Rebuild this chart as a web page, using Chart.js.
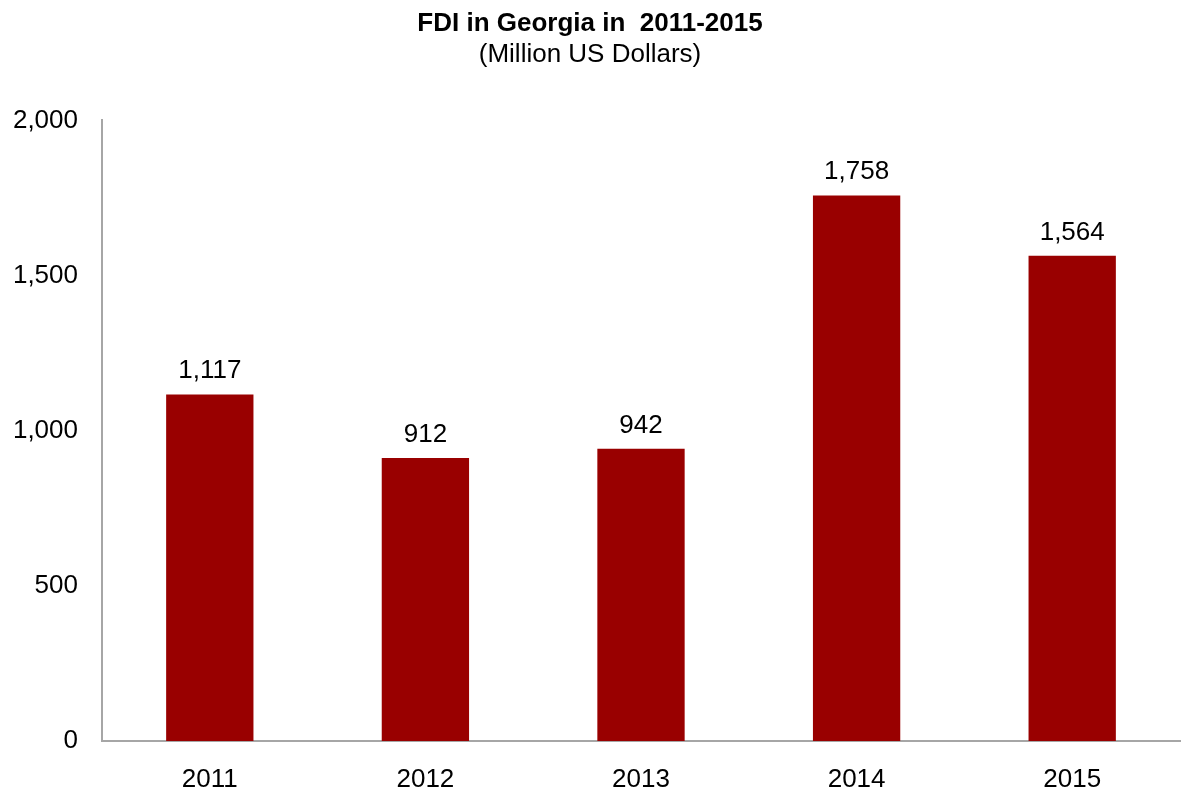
<!DOCTYPE html>
<html>
<head>
<meta charset="utf-8">
<script src="https://cdn.jsdelivr.net/npm/chart.js@4/dist/chart.umd.min.js"></script>
<style>
  body { margin: 0; background: #fff; }
</style>
</head>
<body>
<canvas id="fdi-chart" width="1182" height="795"></canvas>
<script>
const years = ['2011', '2012', '2013', '2014', '2015'];
const fdiValues = [1117, 912, 942, 1758, 1564];
const yTicks = [0, 500, 1000, 1500, 2000];

const fmt = v => v.toLocaleString('en-US');

// draws the value above each bar
const valueLabels = {
  id: 'valueLabels',
  afterDatasetsDraw(chart) {
    const ctx = chart.ctx;
    const meta = chart.getDatasetMeta(0);
    ctx.save();
    ctx.font = '26px "Liberation Sans", Arial, sans-serif';
    ctx.fillStyle = '#000';
    ctx.textAlign = 'center';
    ctx.textBaseline = 'alphabetic';
    meta.data.forEach((bar, i) => {
      ctx.fillText(fmt(fdiValues[i]), bar.x, bar.y - 16);
    });
    ctx.restore();
  }
};

Chart.defaults.font.family = '"Liberation Sans", Arial, sans-serif';
Chart.defaults.color = '#000';

const ctx = document.getElementById('fdi-chart').getContext('2d');
const chart = new Chart(ctx, {
  type: 'bar',
  data: {
    labels: years,
    datasets: [{
      label: 'FDI',
      data: fdiValues,
      backgroundColor: '#990000',
      barPercentage: 0.405,
      categoryPercentage: 1
    }]
  },
  options: {
    responsive: false,
    devicePixelRatio: 1,
    animation: false,
    layout: { padding: { top: 8, right: 2, left: 0, bottom: 0 } },
    plugins: {
      legend: { display: false },
      tooltip: { enabled: false },
      title: {
        display: true,
        text: 'FDI in Georgia in  2011-2015',
        font: { size: 26, weight: 'bold' },
        padding: { top: 0, bottom: 0 }
      },
      subtitle: {
        display: true,
        text: '(Million US Dollars)',
        font: { size: 26 },
        padding: { top: 0, bottom: 50 }
      }
    },
    scales: {
      x: {
        grid: { display: false, drawTicks: false },
        border: { display: true, color: '#a6a6a6', width: 2 },
        ticks: { font: { size: 26 }, padding: 23 },
        afterFit: axis => { axis.height = 54; }
      },
      y: {
        min: 0,
        max: 2000,
        afterBuildTicks: axis => { axis.ticks = yTicks.map(v => ({ value: v })); },
        grid: { display: false, drawTicks: false },
        border: { display: true, color: '#a6a6a6', width: 2 },
        ticks: { font: { size: 26 }, padding: 24, callback: v => fmt(v) },
        afterFit: axis => { axis.width = 102; }
      }
    }
  },
  plugins: [valueLabels]
});
</script>
</body>
</html>
